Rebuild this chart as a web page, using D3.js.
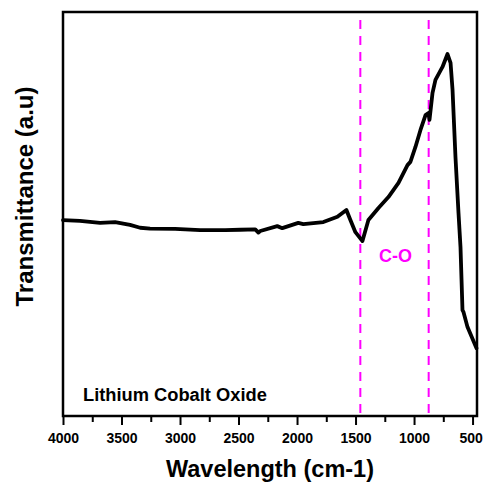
<!DOCTYPE html>
<html>
<head>
<meta charset="utf-8">
<script src="https://cdn.jsdelivr.net/npm/d3@7"></script>
<style>
  html, body { margin: 0; padding: 0; background: #fff; }
  svg { display: block; font-family: "Liberation Sans", Arial, sans-serif; }
</style>
</head>
<body>
<svg id="chart" width="483" height="482"></svg>
<script>
// Wavenumber (cm-1) readings of the FTIR curve
const wavenumbers = [4000, 3855, 3683, 3555, 3427, 3341, 3256, 3042, 2828, 2614, 2485, 2357, 2330, 2314, 2169, 2126, 1989, 1946, 1775, 1655, 1578, 1544, 1501, 1441, 1390, 1304, 1219, 1133, 1056, 1031, 988, 945, 902, 877, 868, 842, 817, 757, 714, 688, 671, 646, 620, 603, 586, 577, 543, 466];
// Transmittance (a.u) readings
const transmittance = [48.5, 48.3, 47.8, 48.0, 47.3, 46.6, 46.4, 46.3, 46.0, 46.0, 46.1, 46.2, 45.4, 45.8, 47.0, 46.5, 47.8, 47.5, 48.0, 49.3, 51.0, 48.5, 45.5, 43.3, 48.5, 51.5, 54.2, 57.7, 62.1, 62.9, 66.6, 70.8, 74.5, 75.0, 73.3, 80.0, 83.2, 86.4, 89.6, 87.4, 80.7, 64.1, 50.2, 41.8, 26.2, 25.7, 22.0, 16.8];
// Marker lines (C-O band)
const markerLines = [1459, 875];
const xTickValues = [4000, 3500, 3000, 2500, 2000, 1500, 1000, 500];
const xMinorTicks = [3750, 3250, 2750, 2250, 1750, 1250, 750];
const sampleLabel = "Lithium Cobalt Oxide";
const bandLabel = "C-O";
const xTitle = "Wavelength (cm-1)";
const yTitle = "Transmittance (a.u)";

const svg = d3.select("#chart");
const mLeft = 63, mRight = 477, mTop = 12, mBottom = 416;

const x = d3.scaleLinear().domain([4000, 462]).range([mLeft, mRight]);
const y = d3.scaleLinear().domain([0, 100]).range([mBottom, mTop]);

// Minor ticks
svg.append("g")
  .attr("transform", `translate(0,${mBottom})`)
  .call(d3.axisBottom(x).tickValues(xMinorTicks).tickSize(6).tickFormat(""))
  .call(g => g.select(".domain").remove())
  .call(g => g.selectAll("line").attr("stroke", "#000").attr("stroke-width", 2));

// Major ticks
const xAxis = svg.append("g")
  .attr("transform", `translate(0,${mBottom})`)
  .call(d3.axisBottom(x).tickValues(xTickValues).tickSize(9).tickPadding(8).tickFormat(d3.format("d")));
xAxis.select(".domain").remove();
xAxis.selectAll("line").attr("stroke", "#000").attr("stroke-width", 2);
xAxis.selectAll("text")
  .attr("fill", "#000")
  .style("font-family", "'Liberation Sans', Arial, sans-serif")
  .style("font-size", "14px")
  .style("font-weight", "bold");
xAxis.selectAll("text").filter(d => d === 500).attr("dx", "-2");

// Dashed marker lines
svg.append("g").selectAll("line")
  .data(markerLines)
  .join("line")
  .attr("x1", d => x(d)).attr("x2", d => x(d))
  .attr("y1", 20).attr("y2", mBottom)
  .attr("stroke", "#ff00ff")
  .attr("stroke-width", 2)
  .attr("stroke-dasharray", "9,7");

// Curve
const data = wavenumbers.map((w, i) => ({ w, t: transmittance[i] }));
svg.append("path")
  .datum(data)
  .attr("fill", "none")
  .attr("stroke", "#000")
  .attr("stroke-width", 3.8)
  .attr("stroke-linejoin", "round")
  .attr("stroke-linecap", "round")
  .attr("d", d3.line().x(d => x(d.w)).y(d => y(d.t)));

// Frame
svg.append("rect")
  .attr("x", mLeft).attr("y", mTop)
  .attr("width", mRight - mLeft).attr("height", mBottom - mTop)
  .attr("fill", "none")
  .attr("stroke", "#000")
  .attr("stroke-width", 2.5);

// Labels
svg.append("text")
  .attr("x", 83).attr("y", 401)
  .attr("font-size", 18.3).attr("font-weight", "bold")
  .attr("fill", "#000")
  .text(sampleLabel);

svg.append("text")
  .attr("x", 379).attr("y", 262)
  .attr("font-size", 18).attr("font-weight", "bold")
  .attr("fill", "#ff00ff")
  .text(bandLabel);

svg.append("text")
  .attr("x", (mLeft + mRight) / 2).attr("y", 477)
  .attr("text-anchor", "middle")
  .attr("font-size", 23.5).attr("font-weight", "bold")
  .attr("fill", "#000")
  .text(xTitle);

svg.append("text")
  .attr("transform", `translate(33,${(85 + 308) / 2}) rotate(-90)`)
  .attr("text-anchor", "middle")
  .attr("font-size", 24).attr("font-weight", "bold")
  .attr("fill", "#000")
  .text(yTitle);
</script>
</body>
</html>
